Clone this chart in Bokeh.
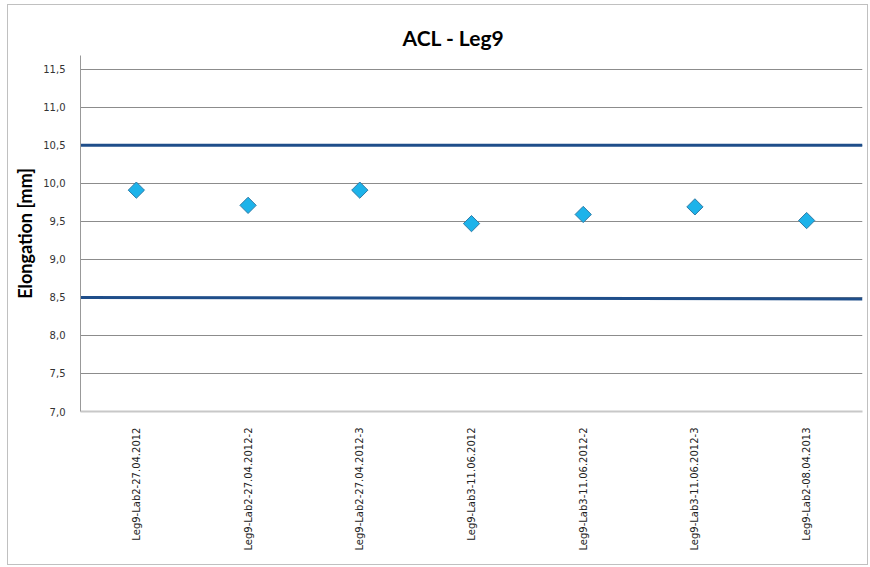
from bokeh.plotting import figure
from bokeh.models import Range1d, FixedTicker, ColumnDataSource
from bokeh.embed import file_html
from bokeh.resources import INLINE
import math

categories = [
    "Leg9-Lab2-27.04.2012",
    "Leg9-Lab2-27.04.2012-2",
    "Leg9-Lab2-27.04.2012-3",
    "Leg9-Lab3-11.06.2012",
    "Leg9-Lab3-11.06.2012-2",
    "Leg9-Lab3-11.06.2012-3",
    "Leg9-Lab2-08.04.2013",
]
elongation = [9.91, 9.71, 9.91, 9.47, 9.59, 9.69, 9.51]
upper_limit = [10.5, 10.5]
lower_limit = [8.5, 8.48]
y_ticks = [7.0, 7.5, 8.0, 8.5, 9.0, 9.5, 10.0, 10.5, 11.0, 11.5]

n = len(categories)
xs = [i + 0.5 for i in range(n)]
limit_x = [0, n]

p = figure(width=861, height=561, output_backend="svg", toolbar_location=None,
           x_range=Range1d(0, n), y_range=Range1d(7.0, 11.68),
           min_border_left=72, min_border_right=7, min_border_top=50,
           min_border_bottom=155)
p.margin = (4, 0, 0, 7)
p.outline_line_color = None
p.background_fill_color = "white"
p.border_fill_color = "white"

p.title.text = "ACL - Leg9"
p.title.align = "left"
p.title.text_font = "Lato"
p.title.text_font_size = "21px"
p.title.text_font_style = "bold"
p.title.text_color = "#000000"
p.title.offset = 322
p.title.standoff = 12

# y axis
p.yaxis.ticker = FixedTicker(ticks=y_ticks)
p.yaxis.major_label_overrides = {t: f"{t:.1f}".replace(".", ",") for t in y_ticks}
p.yaxis.axis_label = "Elongation [mm]"
p.yaxis.axis_label_text_font = "Lato"
p.yaxis.axis_label_text_font_style = "bold"
p.yaxis.axis_label_text_font_size = "18px"
p.yaxis.axis_label_text_color = "#000000"
p.yaxis.axis_label_standoff = 4
p.yaxis.major_label_text_font = "DejaVu Sans"
p.yaxis.major_label_text_font_size = "10px"
p.yaxis.major_label_text_color = "#333333"
p.yaxis.major_tick_line_color = None
p.yaxis.minor_tick_line_color = None
p.yaxis.axis_line_color = "#999999"
p.yaxis.major_label_standoff = 9

# x axis
p.xaxis.ticker = FixedTicker(ticks=xs)
p.xaxis.major_label_overrides = {x: c for x, c in zip(xs, categories)}
p.xaxis.major_label_orientation = math.pi / 2
p.xaxis.major_label_text_font = "DejaVu Sans"
p.xaxis.major_label_text_font_size = "10px"
p.xaxis.major_label_text_color = "#222222"
p.xaxis.major_tick_line_color = None
p.xaxis.minor_tick_line_color = None
p.xaxis.axis_line_color = "#c8c8c8"
p.xaxis.axis_line_width = 2
p.xaxis.major_label_standoff = 10

p.xgrid.grid_line_color = None
p.ygrid.grid_line_color = "#8c8c8c"
p.ygrid.grid_line_width = 1

p.line(limit_x, upper_limit, line_color="#1F4E8A", line_width=3)
p.line(limit_x, lower_limit, line_color="#1F4E8A", line_width=3)

src = ColumnDataSource(dict(x=xs, y=elongation))
p.scatter("x", "y", source=src, marker="square", angle=math.pi / 4, size=11.5,
          fill_color="#1DB3EA", line_color="#2F7BA6", line_width=1)

p.styles = {"border": "1px solid #c0c0c0"}

open("out.html", "w").write(file_html(p, INLINE))
